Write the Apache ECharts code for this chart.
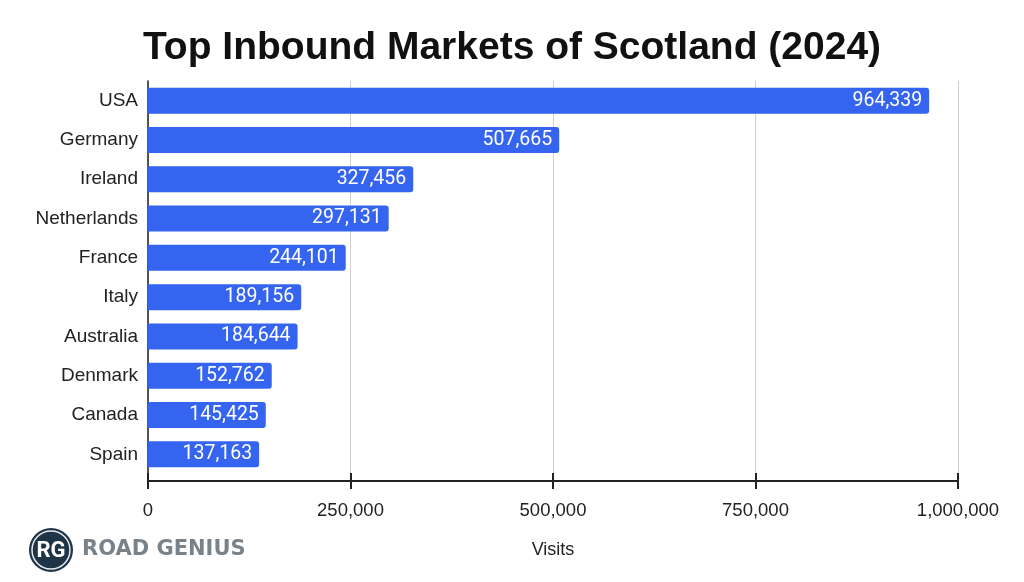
<!DOCTYPE html>
<html><head><meta charset="utf-8">
<script src="https://cdn.jsdelivr.net/npm/echarts@6/dist/echarts.min.js"></script>
<style>html,body{margin:0;padding:0;background:#fff}#c{width:1024px;height:582px}</style>
</head><body><div id="c"></div>
<script>
const categories = ["USA","Germany","Ireland","Netherlands","France","Italy","Australia","Denmark","Canada","Spain"];
const visits = [964339,507665,327456,297131,244101,189156,184644,152762,145425,137163];
const xTicks = [0,250000,500000,750000,1000000];

const chart = echarts.init(document.getElementById('c'));
const fmt = v => v.toLocaleString('en-US');
const F = '"Liberation Sans", Arial, sans-serif';
chart.setOption({
  animation:false,
  backgroundColor:'#fff',
  title:{text:'Top Inbound Markets of Scotland (2024)',left:'center',top:24,
    textStyle:{fontFamily:F,fontWeight:'bold',fontSize:39,color:'#111'}},
  grid:{left:148,right:1024-958,top:81,bottom:582-474},
  xAxis:[{type:'value',min:xTicks[0],max:xTicks[xTicks.length-1],interval:250000,offset:7,
    name:'Visits',nameLocation:'middle',nameGap:60,
    nameTextStyle:{fontFamily:F,fontSize:18,color:'#222'},
    axisLine:{show:true,lineStyle:{color:'#222',width:2}},
    axisTick:{show:true,length:8,lineStyle:{color:'#222',width:2}},
    axisLabel:{fontFamily:F,fontSize:18.5,color:'#222',margin:20,formatter:v=>fmt(v)},
    splitLine:{show:true,lineStyle:{color:'#cfcfcf',width:1}}},
   {type:'value',min:xTicks[0],max:xTicks[xTicks.length-1],interval:250000,position:'bottom',offset:7,
    axisLine:{show:false},axisTick:{show:true,inside:true,length:8,lineStyle:{color:'#222',width:2}},
    axisLabel:{show:false},splitLine:{show:false}}],
  yAxis:{type:'category',data:categories,inverse:true,
    axisLine:{show:true,lineStyle:{color:'#222',width:1.5}},
    axisTick:{show:false},
    axisLabel:{fontFamily:F,fontSize:19,color:'#222',margin:10}},
  series:[{type:'bar',data:visits,barWidth:26,xAxisIndex:0,
    itemStyle:{color:'#3564f0',borderRadius:[0,3,3,0]},
    label:{show:true,position:'insideRight',distance:7,color:'#fff',fontFamily:'Roboto',fontSize:19.5,
      formatter:p=>fmt(p.value)}}],
  graphic:[
    {type:'circle',shape:{cx:51,cy:550,r:22},style:{fill:'#1f3447'}},
    {type:'circle',shape:{cx:51,cy:550,r:19},style:{fill:'none',stroke:'#e8ecef',lineWidth:1.5}},
    {type:'text',x:51,y:551,style:{text:'RG',fill:'#fff',font:'bold 22px Roboto',align:'center',verticalAlign:'middle'}},
    {type:'text',x:82,y:550,style:{text:'ROAD GENIUS',fill:'#7a8289',font:'bold 21px "DejaVu Sans"',verticalAlign:'middle'}}
  ]
});
</script></body></html>
